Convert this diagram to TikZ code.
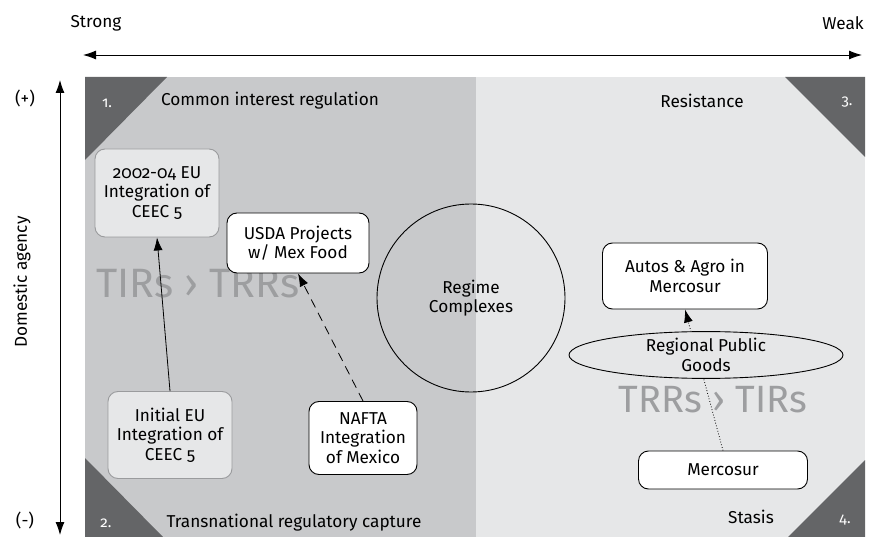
\documentclass[tikz,border=0pt]{standalone}
\usepackage{fontspec}
\setmainfont{Fira Sans}[Numbers=OldStyle]
\usetikzlibrary{arrows.meta,shapes.geometric}
\definecolor{darkbg}{HTML}{C8C9CB}
\definecolor{lightbg}{HTML}{E6E7E8}
\definecolor{cornerc}{HTML}{646567}
\definecolor{bigtxt}{HTML}{9D9EA0}
\definecolor{lightborder}{HTML}{9A9B9D}
\begin{document}
\begin{tikzpicture}[x=1pt,y=-1pt,
 every node/.style={font=\fontsize{17.2}{19.5}\selectfont},
 whitebox/.style={draw=black, fill=white, rounded corners=10pt, line width=0.9pt, align=center, inner sep=0pt},
 greybox/.style={draw=lightborder, fill=lightbg, rounded corners=10pt, line width=0.9pt, align=center, inner sep=0pt},
 cornerlbl/.style={text=white, font=\fontsize{15}{17}\selectfont},
 bigtext/.style={text=bigtxt, font=\fontsize{38}{42}\selectfont},
 arr/.style={-{Latex[length=13pt,width=9pt]}, line width=0.8pt},
 axis/.style={{Latex[length=13pt,width=9pt]}-{Latex[length=13pt,width=9pt]}, line width=0.9pt}
]
\useasboundingbox (0,0) rectangle (870,537);
% background panels
\fill[darkbg] (85,77) rectangle (476,537);
\fill[lightbg] (476,77) rectangle (865,537);
\fill[cornerc] (85,77) -- (167,77) -- (85,160) -- cycle;
\fill[cornerc] (785,77) -- (865,77) -- (865,157) -- cycle;
\fill[cornerc] (85,458) -- (163,537) -- (85,537) -- cycle;
\fill[cornerc] (865,460) -- (865,537) -- (788,537) -- cycle;

% axes
\node (strong) at (96,23) {Strong};
\node (weak) at (843,23) {Weak};
\coordinate (hl) at (83,55);
\coordinate (hr) at (862,55);
\draw[axis] (hl) -- (hr);
\coordinate (vt) at (60,80);
\coordinate (vb) at (60,535);
\draw[axis] (vt) -- (vb);
\node (plus) at (25,98) {(+)};
\node (minus) at (25,520) {(-)};
\node[rotate=90] (dom) at (22,282) {Domestic agency};

% corner labels
\node[cornerlbl] (c1) at (107,103) {1.};
\node[cornerlbl] (c2) at (106,523) {2.};
\node[cornerlbl] (c3) at (847,102) {3.};
\node[cornerlbl] (c4) at (845,520) {4.};
\node (t1) at (270,101) {Common interest regulation};
\node (t3) at (702,101) {Resistance};
\node (t2) at (294,523) {Transnational regulatory capture};
\node (t4) at (751,517) {Stasis};

% big texts
\node[bigtext, font=\fontsize{41}{44}\selectfont] (tirs) at (198,284) {TIRs › TRRs};
\node[bigtext] (trrs) at (713,400) {TRRs › TIRs};

% boxes
\node[greybox, minimum width=124pt, minimum height=88pt] (eu) at (157,193) {2002-04 EU\\Integration of\\CEEC 5};
\node[whitebox, minimum width=142pt, minimum height=60pt] (usda) at (298,243) {USDA Projects\\w/ Mex Food};
\node[greybox, minimum width=124pt, minimum height=87pt] (init) at (170,435) {Initial EU\\Integration of\\CEEC 5};
\node[whitebox, minimum width=108pt, minimum height=73pt] (nafta) at (363,438) {NAFTA\\Integration\\of Mexico};
\node[draw=black, circle, line width=0.9pt, minimum size=188pt, inner sep=0pt, align=center] (rc) at (471,298) {Regime\\Complexes};
\node[whitebox, minimum width=165pt, minimum height=66pt] (autos) at (685,276) {Autos \& Agro in\\Mercosur};
\node[whitebox, minimum width=169pt, minimum height=38pt] (merc) at (723,470) {Mercosur};

% connectors
\draw[arr] (init.north) -- (eu.south);
\draw[arr, dashed, dash pattern=on 9pt off 6pt] (nafta.north) -- (usda.south);
\draw[arr, dotted] (merc.north) -- (autos.south);
\node[draw=black, fill=lightbg, ellipse, line width=0.9pt, minimum width=274pt, minimum height=44pt, inner sep=0pt, align=center] (rpg) at (706,355) {Regional Public\\Goods};
\end{tikzpicture}
\end{document}
